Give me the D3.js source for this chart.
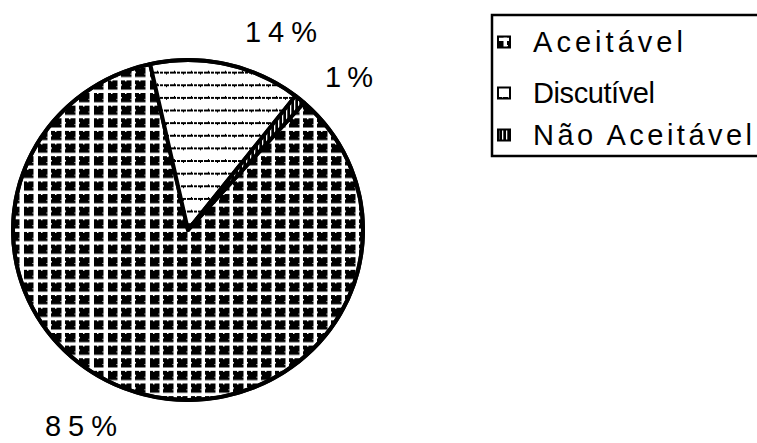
<!DOCTYPE html>
<html>
<head>
<meta charset="utf-8">
<script src="https://cdn.jsdelivr.net/npm/d3@7"></script>
<style>
  body { margin: 0; background: #fff; }
  svg { display: block; }
  text { font-family: "Liberation Sans", Arial, sans-serif; fill: #000; }
</style>
</head>
<body>
<svg id="chart" width="757" height="443"></svg>
<script>
// Data
const categories = ["Aceitável", "Discutível", "Não Aceitável"];
const values = [85, 14, 1];
const pctLabels = ["85%", "14%", "1%"];

// Layout
const cx = 188, cy = 230, rx = 175, ry = 170;
const firstSliceDeg = 41.5;
const labelLayout = [
  { x: 45, y: 436, w: 72 },   // 85%
  { x: 245, y: 42, w: 72 },   // 14%
  { x: 325, y: 87, w: 48 }    // 1%
];
const legendLayout = { x: 492, y: 15, w: 290, h: 141, iconX: 498, textX: 533,
  rows: [42, 93, 135], widths: [150, 122, 219] };
const patternIds = ["pat-aceitavel", "pat-discutivel", "pat-nao"];

const svg = d3.select("#chart");
const defs = svg.append("defs");

// Crosshatch: black blocks separated by a white grid
const pA = defs.append("pattern").attr("id", patternIds[0])
  .attr("patternUnits", "userSpaceOnUse").attr("width", 14).attr("height", 13)
  .attr("x", 3).attr("y", 2);
pA.append("rect").attr("width", 14).attr("height", 13).attr("fill", "#000");
pA.append("rect").attr("x", 10.5).attr("y", 0).attr("width", 3.5).attr("height", 13).attr("fill", "#fff");
pA.append("rect").attr("x", 0).attr("y", 9.5).attr("width", 14).attr("height", 3.5).attr("fill", "#fff");
[[4, 0, 1.5, 1], [0, 4, 1, 1.5], [9.5, 6, 1, 1]].forEach(d =>
  pA.append("rect").attr("x", d[0]).attr("y", d[1]).attr("width", d[2]).attr("height", d[3]).attr("fill", "#fff"));

// Horizontal broken lines
const pD = defs.append("pattern").attr("id", patternIds[1])
  .attr("patternUnits", "userSpaceOnUse").attr("width", 17).attr("height", 13);
pD.append("rect").attr("width", 17).attr("height", 13).attr("fill", "#fff");
[[0, 6, 5, 2], [6, 6, 3, 2], [10, 6, 5, 2], [16, 6, 1, 2], [3, 5, 1, 1], [12, 8, 1, 1]].forEach(d =>
  pD.append("rect").attr("x", d[0]).attr("y", d[1]).attr("width", d[2]).attr("height", d[3]).attr("fill", "#000"));

// Vertical stripes on black
const pN = defs.append("pattern").attr("id", patternIds[2])
  .attr("patternUnits", "userSpaceOnUse").attr("width", 4).attr("height", 4);
pN.append("rect").attr("width", 4).attr("height", 4).attr("fill", "#000");
pN.append("rect").attr("x", 2).attr("width", 1.3).attr("height", 4).attr("fill", "#fff");

// Pie
const start = firstSliceDeg * Math.PI / 180;
const pie = d3.pie().sort(null).value(d => d).startAngle(start).endAngle(start + 2 * Math.PI);
const arc = d3.arc().innerRadius(0).outerRadius(rx);
const arcs = pie(values);

const g = svg.append("g")
  .attr("transform", `translate(${cx},${cy}) scale(1,${ry / rx})`);

g.selectAll("path.slice").data(arcs).join("path")
  .attr("class", "slice")
  .attr("d", arc)
  .attr("fill", (d, i) => `url(#${patternIds[i]})`)
  .attr("stroke", "#000")
  .attr("stroke-width", 4)
  .attr("stroke-linejoin", "round");

g.append("ellipse").attr("rx", rx).attr("ry", rx)
  .attr("fill", "none").attr("stroke", "#000").attr("stroke-width", 4);

// Percentage labels
svg.selectAll("text.pct").data(pctLabels).join("text")
  .attr("class", "pct")
  .attr("x", (d, i) => labelLayout[i].x)
  .attr("y", (d, i) => labelLayout[i].y)
  .attr("font-size", 29)
  .attr("textLength", (d, i) => labelLayout[i].w)
  .attr("lengthAdjust", "spacing")
  .text(d => d);

// Legend
const L = legendLayout;
svg.append("rect").attr("x", L.x).attr("y", L.y).attr("width", L.w).attr("height", L.h)
  .attr("fill", "#fff").attr("stroke", "#000").attr("stroke-width", 2.5);

const items = svg.selectAll("g.item").data(categories).join("g").attr("class", "item");
items.append("rect")
  .attr("x", L.iconX).attr("y", (d, i) => L.rows[i] - 5.5)
  .attr("width", 12).attr("height", 11)
  .attr("fill", (d, i) => `url(#${patternIds[i]})`)
  .attr("stroke", "#000").attr("stroke-width", 2);
items.append("text")
  .attr("x", L.textX).attr("y", (d, i) => L.rows[i] + 9.5)
  .attr("font-size", 29)
  .attr("textLength", (d, i) => L.widths[i])
  .attr("lengthAdjust", "spacing")
  .text(d => d);
</script>
</body>
</html>
